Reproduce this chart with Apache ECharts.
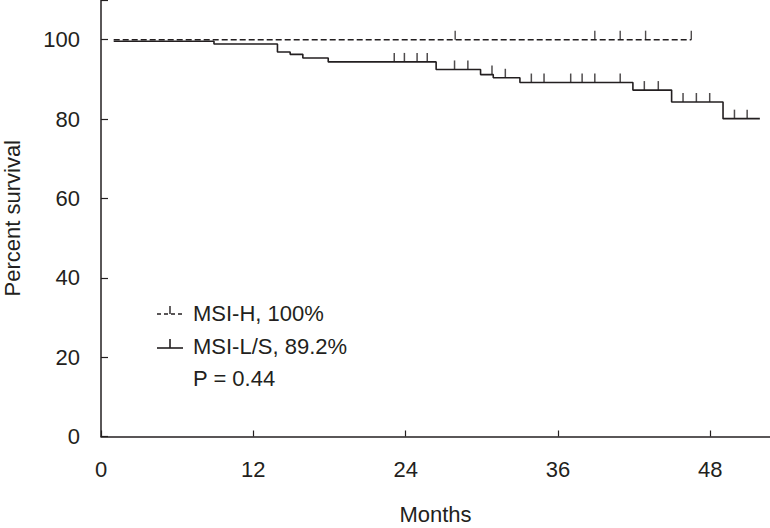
<!DOCTYPE html>
<html>
<head>
<meta charset="utf-8">
<script src="https://cdn.jsdelivr.net/npm/echarts@6/dist/echarts.min.js"></script>
<style>
html,body{margin:0;padding:0;background:#fff;}
#chart{width:770px;height:528px;}
</style>
</head>
<body>
<div id="chart"></div>
<script>
// ---- data ----
const xTicks = [0, 12, 24, 36, 48];
const yTicks = [0, 20, 40, 60, 80, 100];

// MSI-H group (dashed)
const hStart = 1.0;
const hStartSurv = 100;
const hDropTimes = [];
const hDropSurv = [];
const hCensor = [27.9, 38.9, 40.9, 42.9, 46.5];
const hEnd = 46.5;

// MSI-L/S group (solid)
const lStart = 1.0;
const lStartSurv = 99.6;
const lDropTimes = [8.9, 13.9, 14.9, 15.9, 17.9, 26.4, 29.9, 30.9, 33.0, 41.9, 44.95, 49.0];
const lDropSurv  = [98.9, 96.9, 96.3, 95.4, 94.4, 92.5, 91.2, 90.4, 89.2, 87.3, 84.3, 80.1];
const lCensor = [23.1, 23.9, 24.9, 25.7, 27.85, 28.9, 30.8, 31.85, 33.9, 34.9, 37.0, 37.9, 38.9, 40.9, 42.8, 43.9, 45.85, 46.9, 47.95, 49.9, 50.9];
const lEnd = 51.9;

const legendNames = ['MSI-H, 100%', 'MSI-L/S, 89.2%'];
const pText = 'P = 0.44';

// ---- helpers ----
function stepPoints(start, s0, times, surv, end) {
  const pts = [[start, s0]];
  let prev = s0;
  for (let i = 0; i < times.length; i++) {
    pts.push([times[i], prev]);
    pts.push([times[i], surv[i]]);
    prev = surv[i];
  }
  pts.push([end, prev]);
  return pts;
}
function survAt(t, s0, times, surv) {
  let s = s0;
  for (let i = 0; i < times.length; i++) { if (times[i] <= t) s = surv[i]; }
  return s;
}

const INK = '#231f20';
const FONT = '"Liberation Sans", Arial, sans-serif';
const FS = 22;

const chart = echarts.init(document.getElementById('chart'), null, {renderer: 'svg'});
const option = {
  animation: false,
  backgroundColor: '#fff',
  grid: {left: 101, top: 0, right: 0, bottom: 91.5, containLabel: false, outerBoundsMode: 'none'},
  xAxis: {
    type: 'value', min: 0, max: 52.7, interval: 12,
    name: 'Months', nameLocation: 'middle', nameGap: 67,
    nameTextStyle: {fontFamily: FONT, fontSize: FS, color: INK},
    axisLine: {show: true, lineStyle: {color: INK, width: 1.5}},
    axisTick: {show: true, inside: true, length: 6, lineStyle: {color: INK, width: 1.2}},
    axisLabel: {fontFamily: FONT, fontSize: FS, color: INK, margin: 22, showMaxLabel: false,
      formatter: v => xTicks.includes(v) ? String(v) : ''},
    splitLine: {show: false}
  },
  yAxis: {
    type: 'value', min: 0, max: 110, interval: 20,
    name: 'Percent survival', nameLocation: 'middle', nameGap: 78, nameRotate: 90,
    nameTextStyle: {fontFamily: FONT, fontSize: FS, color: INK},
    axisLine: {show: true, lineStyle: {color: INK, width: 1.5}},
    axisTick: {show: true, inside: true, length: 7, lineStyle: {color: INK, width: 1.2}},
    axisLabel: {fontFamily: FONT, fontSize: FS, color: INK, margin: 21,
      formatter: v => yTicks.includes(v) ? String(v) : ''},
    splitLine: {show: false}
  },
  series: [
    {
      type: 'line', name: legendNames[0], showSymbol: false, symbol: 'none',
      data: stepPoints(hStart, hStartSurv, hDropTimes, hDropSurv, hEnd),
      lineStyle: {color: INK, width: 1.4, type: [6, 3]}, z: 3
    },
    {
      type: 'scatter', symbol: 'rect', symbolSize: [1.4, 9], symbolOffset: [0, -4.5],
      itemStyle: {color: INK},
      data: hCensor.map(t => [t, survAt(t, hStartSurv, hDropTimes, hDropSurv)]), z: 3
    },
    {
      type: 'line', name: legendNames[1], showSymbol: false, symbol: 'none',
      data: stepPoints(lStart, lStartSurv, lDropTimes, lDropSurv, lEnd),
      lineStyle: {color: INK, width: 1.6}, z: 2
    },
    {
      type: 'scatter', symbol: 'rect', symbolSize: [1.5, 9], symbolOffset: [0, -4.5],
      itemStyle: {color: INK},
      data: lCensor.map(t => [t, survAt(t, lStartSurv, lDropTimes, lDropSurv)]), z: 2
    }
  ],
  graphic: [
    {type: 'line', shape: {x1: 157, y1: 314, x2: 183, y2: 314}, style: {stroke: INK, lineWidth: 1.4, lineDash: [4, 3]}},
    {type: 'line', shape: {x1: 170, y1: 306, x2: 170, y2: 314}, style: {stroke: INK, lineWidth: 1.4}},
    {type: 'text', left: 193, top: 302, style: {text: legendNames[0], fontFamily: FONT, fontSize: FS, fill: INK}},
    {type: 'line', shape: {x1: 157, y1: 348, x2: 183, y2: 348}, style: {stroke: INK, lineWidth: 1.6}},
    {type: 'line', shape: {x1: 170, y1: 339, x2: 170, y2: 348}, style: {stroke: INK, lineWidth: 1.6}},
    {type: 'text', left: 193, top: 335, style: {text: legendNames[1], fontFamily: FONT, fontSize: FS, fill: INK}},
    {type: 'text', left: 193, top: 367, style: {text: pText, fontFamily: FONT, fontSize: FS, fill: INK}}
  ]
};
chart.setOption(option);
</script>
</body>
</html>
